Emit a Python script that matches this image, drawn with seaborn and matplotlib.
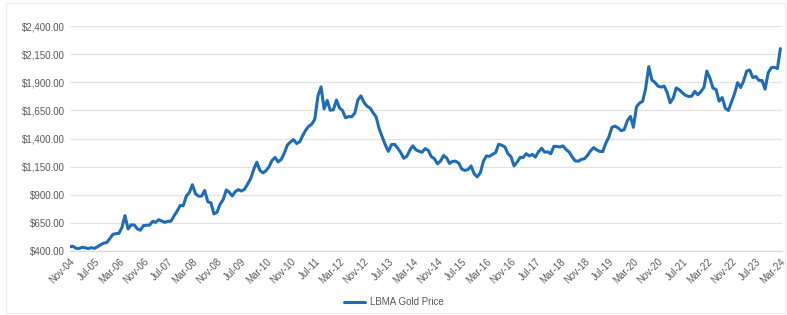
import matplotlib
matplotlib.use("Agg")
import matplotlib.pyplot as plt
import matplotlib.dates as mdates
from matplotlib.ticker import FuncFormatter
import pandas as pd
import seaborn as sns

# monthly LBMA gold price (USD/oz), Nov 2004 - Mar 2024
start_month = "2004-11-01"
price = [
    439, 442,
    424, 423, 434, 429, 422, 430, 424, 438, 456, 470, 476, 510,
    549, 555, 557, 610, 715, 596, 633, 632, 598, 585, 627, 629,
    631, 665, 655, 679, 667, 655, 665, 665, 713, 754, 806, 803,
    889, 922, 990, 909, 888, 889, 939, 839, 829, 730, 745, 816,
    858, 943, 924, 890, 928, 946, 934, 949, 996, 1044, 1127, 1190,
    1118, 1095, 1113, 1148, 1205, 1232, 1193, 1215, 1271, 1343, 1370, 1391,
    1356, 1372, 1424, 1474, 1510, 1529, 1573, 1780, 1860, 1665, 1739, 1652,
    1656, 1743, 1674, 1650, 1585, 1596, 1594, 1626, 1744, 1780, 1721, 1688,
    1671, 1627, 1593, 1487, 1414, 1343, 1286, 1347, 1349, 1316, 1275, 1225,
    1244, 1300, 1336, 1299, 1288, 1279, 1311, 1296, 1239, 1222, 1176, 1200,
    1250, 1227, 1179, 1198, 1199, 1181, 1128, 1117, 1125, 1157, 1086, 1060,
    1097, 1199, 1246, 1242, 1260, 1276, 1350, 1341, 1326, 1267, 1238, 1157,
    1192, 1234, 1231, 1266, 1246, 1260, 1236, 1283, 1314, 1280, 1282, 1265,
    1331, 1331, 1325, 1335, 1304, 1281, 1238, 1202, 1199, 1215, 1221, 1250,
    1292, 1320, 1300, 1286, 1284, 1359, 1413, 1500, 1511, 1495, 1470, 1480,
    1560, 1597, 1500, 1683, 1715, 1732, 1846, 2040, 1921, 1900, 1866, 1858,
    1867, 1808, 1718, 1760, 1850, 1834, 1807, 1785, 1775, 1777, 1820, 1790,
    1817, 1856, 2000, 1937, 1849, 1836, 1733, 1765, 1670, 1650, 1725, 1798,
    1898, 1854, 1912, 2000, 2010, 1943, 1952, 1918, 1916, 1840, 1985, 2030,
    2034, 2023, 2200,
]
series_name = "LBMA Gold Price"
y_ticks = [400, 650, 900, 1150, 1400, 1650, 1900, 2150, 2400]

df = pd.DataFrame({
    "date": pd.date_range(start_month, periods=len(price), freq="MS"),
    "price": price,
})

sns.set_style("white")
plt.rcParams["font.family"] = ["Liberation Sans", "DejaVu Sans"]

fig = plt.figure(figsize=(7.87, 3.15), dpi=100)
ax = fig.add_axes([0.089, 0.203, 0.905, 0.714])

sns.lineplot(data=df, x="date", y="price", ax=ax, color="#1f6db5",
             linewidth=2.2, label=series_name, legend=False)

ax.set_ylim(400, 2400)
ax.set_yticks(y_ticks)
ax.yaxis.set_major_formatter(FuncFormatter(lambda v, p: f"${v:,.2f}"))
ax.grid(axis="y", color="#e3e3e3", linewidth=0.9)
ax.set_axisbelow(True)

ticks = pd.date_range("2004-11-01", "2024-03-01", freq="8MS")
ax.set_xticks(ticks)
ax.xaxis.set_major_formatter(mdates.DateFormatter("%b-%y"))
ax.set_xlim(pd.Timestamp("2004-11-01"), pd.Timestamp("2024-03-20"))
plt.setp(ax.get_xticklabels(), rotation=45, ha="right", rotation_mode="anchor")

ax.tick_params(axis="both", labelsize=7, colors="#595959", length=0, pad=4)
ax.set_xlabel("")
ax.set_ylabel("")
for s in ["top", "right", "left"]:
    ax.spines[s].set_visible(False)
ax.spines["bottom"].set_color("#d9d9d9")
ax.spines["bottom"].set_linewidth(0.9)

handles, labels = ax.get_legend_handles_labels()
fig.legend(handles, labels, loc="center", bbox_to_anchor=(0.5, 0.04),
           frameon=False, fontsize=7, labelcolor="#595959",
           handlelength=2.2, handletextpad=0.5)

fig.patches.append(plt.Rectangle((0.008, 0.005), 0.99, 0.985, transform=fig.transFigure,
                                 fill=False, edgecolor="#ececec", linewidth=0.8))

plt.savefig("out.png", dpi=100)
